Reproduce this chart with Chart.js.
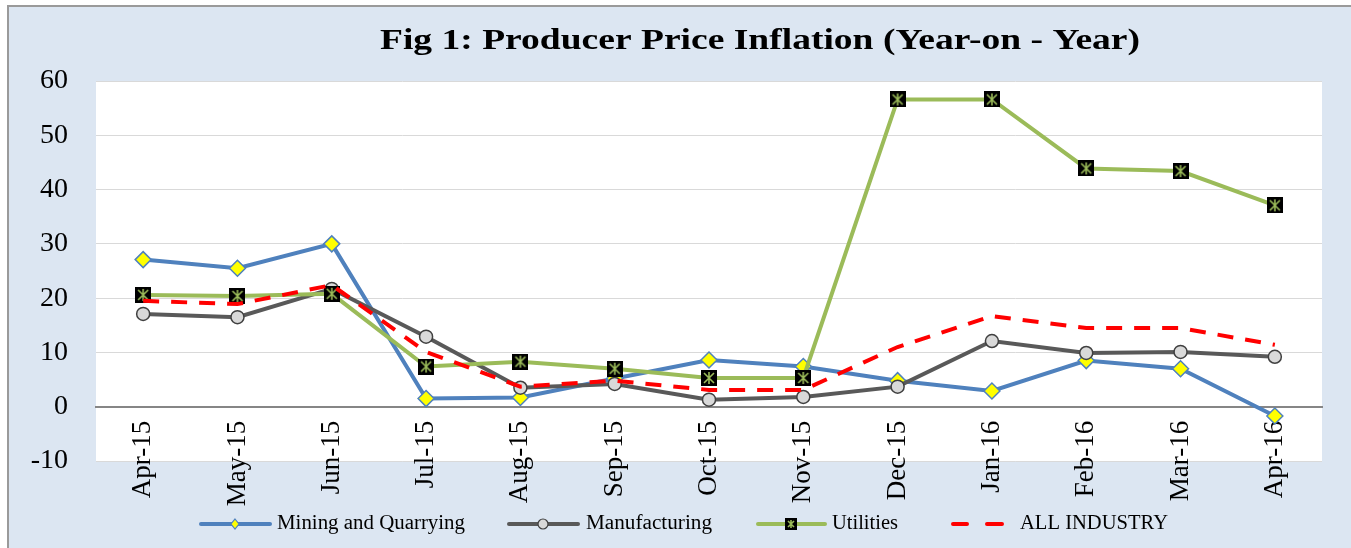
<!DOCTYPE html>
<html>
<head>
<meta charset="utf-8">
<script src="https://cdn.jsdelivr.net/npm/chart.js@4.4.1/dist/chart.umd.min.js"></script>
<style>
    html, body { margin: 0; padding: 0; background: #ffffff; }
    #frame {
        position: absolute; left: 7px; top: 5px; width: 1344px; height: 543px;
        background: #dce6f2; border-left: 2px solid #9a9a9a; border-top: 2px solid #9a9a9a;
    }
    #wrap { position: absolute; left: 0; top: 0; width: 1351px; height: 548px; }
</style>
</head>
<body>
<div id="frame"></div>
<div id="wrap"><canvas id="ppi"></canvas></div>
<script>
// Data
const months = ['Apr-15', 'May-15', 'Jun-15', 'Jul-15', 'Aug-15', 'Sep-15', 'Oct-15',
                'Nov-15', 'Dec-15', 'Jan-16', 'Feb-16', 'Mar-16', 'Apr-16'];
const mining = [27.1, 25.5, 30.0, 1.5, 1.7, 5.2, 8.6, 7.4, 4.8, 2.9, 8.5, 7.0, -1.7];
const manufacturing = [17.1, 16.5, 21.7, 12.9, 3.5, 4.2, 1.3, 1.8, 3.7, 12.1, 9.9, 10.1, 9.2];
const utilities = [20.6, 20.4, 20.8, 7.4, 8.3, 7.0, 5.3, 5.3, 56.6, 56.6, 43.9, 43.4, 37.1];
const allIndustry = [19.5, 18.9, 22.4, 10.1, 3.7, 4.8, 3.1, 3.1, 11.0, 16.7, 14.5, 14.5, 11.4];
const yTicks = { min: -10, max: 60, step: 10 };

const serif = "'Liberation Serif', 'Times New Roman', serif";

// black square with green asterisk, like the Excel marker
function makeStarBox(size) {
    const c = document.createElement('canvas');
    c.width = size; c.height = size;
    const g = c.getContext('2d');
    g.fillStyle = '#000000';
    g.fillRect(0, 0, size, size);
    g.strokeStyle = '#9bbb59';
    g.lineWidth = 1.6;
    const p = 3;
    g.beginPath();
    g.moveTo(p, p); g.lineTo(size - p, size - p);
    g.moveTo(size - p, p); g.lineTo(p, size - p);
    g.moveTo(size / 2, p - 1); g.lineTo(size / 2, size - p + 1);
    g.stroke();
    return c;
}
const starBox = makeStarBox(16);
const starBoxSmall = makeStarBox(12);

// text in the figure is a little wider than the plain font, so stretch it
function stretchedText(ctx, text, x, y, width, align) {
    const w = ctx.measureText(text).width;
    const sx = width / w;
    ctx.save();
    ctx.translate(x, y);
    ctx.scale(sx, 1);
    ctx.textAlign = align;
    ctx.fillText(text, 0, 0);
    ctx.restore();
}

// white plot area
const plotBg = {
    id: 'plotBg',
    beforeDraw(chart) {
        const a = chart.chartArea, ctx = chart.ctx;
        ctx.save();
        ctx.fillStyle = '#ffffff';
        ctx.fillRect(a.left, a.top, a.right - a.left, a.bottom - a.top);
        ctx.restore();
    }
};

// title and legend drawn by hand to match the figure placement
const decorations = {
    id: 'decorations',
    afterDraw(chart) {
        const ctx = chart.ctx;
        ctx.save();
        ctx.fillStyle = '#000000';
        ctx.font = 'bold 29px ' + serif;
        ctx.textBaseline = 'alphabetic';
        stretchedText(ctx, 'Fig 1: Producer Price Inflation (Year-on - Year)', 760, 49, 760, 'center');

        const y = 524;
        ctx.font = '20px ' + serif;
        ctx.textBaseline = 'middle';

        // Mining and Quarrying
        ctx.strokeStyle = '#4f81bd'; ctx.lineWidth = 4; ctx.lineCap = 'round';
        ctx.beginPath(); ctx.moveTo(201, y); ctx.lineTo(270, y); ctx.stroke();
        ctx.fillStyle = '#ffff00'; ctx.lineWidth = 1.2;
        ctx.beginPath();
        ctx.moveTo(235, y - 5); ctx.lineTo(239, y); ctx.lineTo(235, y + 5); ctx.lineTo(231, y);
        ctx.closePath(); ctx.fill(); ctx.stroke();
        ctx.fillStyle = '#000000';
        stretchedText(ctx, 'Mining and Quarrying', 277, y, 188, 'left');

        // Manufacturing
        ctx.strokeStyle = '#595959'; ctx.lineWidth = 4;
        ctx.beginPath(); ctx.moveTo(509, y); ctx.lineTo(578, y); ctx.stroke();
        ctx.fillStyle = '#d9d9d9'; ctx.strokeStyle = '#404040'; ctx.lineWidth = 1.2;
        ctx.beginPath(); ctx.arc(543, y, 5, 0, Math.PI * 2); ctx.fill(); ctx.stroke();
        ctx.fillStyle = '#000000';
        stretchedText(ctx, 'Manufacturing', 586, y, 126, 'left');

        // Utilities
        ctx.strokeStyle = '#9bbb59'; ctx.lineWidth = 4;
        ctx.beginPath(); ctx.moveTo(758, y); ctx.lineTo(825, y); ctx.stroke();
        ctx.drawImage(starBoxSmall, 791 - 6, y - 6);
        ctx.fillStyle = '#000000';
        stretchedText(ctx, 'Utilities', 832, y, 66, 'left');

        // ALL INDUSTRY
        ctx.strokeStyle = '#ff0000'; ctx.lineWidth = 4; ctx.lineCap = 'round';
        ctx.beginPath(); ctx.moveTo(953, y); ctx.lineTo(967, y); ctx.moveTo(987, y); ctx.lineTo(1002, y); ctx.stroke();
        ctx.fillStyle = '#000000';
        stretchedText(ctx, 'ALL INDUSTRY', 1020, y, 148, 'left');
        ctx.restore();
    }
};

const ctx = document.getElementById('ppi').getContext('2d');
new Chart(ctx, {
    type: 'line',
    data: {
        labels: months,
        datasets: [
            {
                label: 'Mining and Quarrying',
                data: mining,
                borderColor: '#4f81bd',
                borderWidth: 4,
                pointStyle: 'rectRot',
                pointRadius: 8,
                pointBackgroundColor: '#ffff00',
                pointBorderColor: '#4f81bd',
                pointBorderWidth: 1.5,
                order: 4
            },
            {
                label: 'Manufacturing',
                data: manufacturing,
                borderColor: '#595959',
                borderWidth: 4,
                pointStyle: 'circle',
                pointRadius: 6.5,
                pointBackgroundColor: '#d9d9d9',
                pointBorderColor: '#404040',
                pointBorderWidth: 1.5,
                order: 3
            },
            {
                label: 'Utilities',
                data: utilities,
                borderColor: '#9bbb59',
                borderWidth: 4,
                pointStyle: starBox,
                pointRadius: 8,
                order: 2
            },
            {
                label: 'ALL INDUSTRY',
                data: allIndustry,
                borderColor: '#ff0000',
                borderWidth: 4,
                borderDash: [16, 12],
                pointRadius: 0,
                order: 1
            }
        ]
    },
    options: {
        responsive: true,
        maintainAspectRatio: false,
        animation: false,
        layout: {
            padding: { left: 0, right: 29, top: 81, bottom: 87 }
        },
        plugins: {
            legend: { display: false },
            title: { display: false },
            tooltip: { enabled: false }
        },
        elements: {
            line: { tension: 0 }
        },
        scales: {
            x: {
                type: 'category',
                offset: true,
                position: { y: 0 },
                afterFit: function(scale) { scale.height = 0; },
                grid: { display: false, drawTicks: false },
                border: { display: true, color: '#868686', width: 2 },
                ticks: {
                    color: '#000000',
                    minRotation: 90,
                    maxRotation: 90,
                    padding: 14,
                    autoSkip: false,
                    font: { family: serif, size: 27 }
                }
            },
            y: {
                min: yTicks.min,
                max: yTicks.max,
                afterFit: function(scale) { scale.width = 96; },
                grid: { color: '#d9d9d9', lineWidth: 1, drawTicks: false },
                border: { display: false },
                ticks: {
                    stepSize: yTicks.step,
                    color: '#000000',
                    padding: 28,
                    font: { family: serif, size: 28 }
                }
            }
        }
    },
    plugins: [plotBg, decorations]
});
</script>
</body>
</html>
